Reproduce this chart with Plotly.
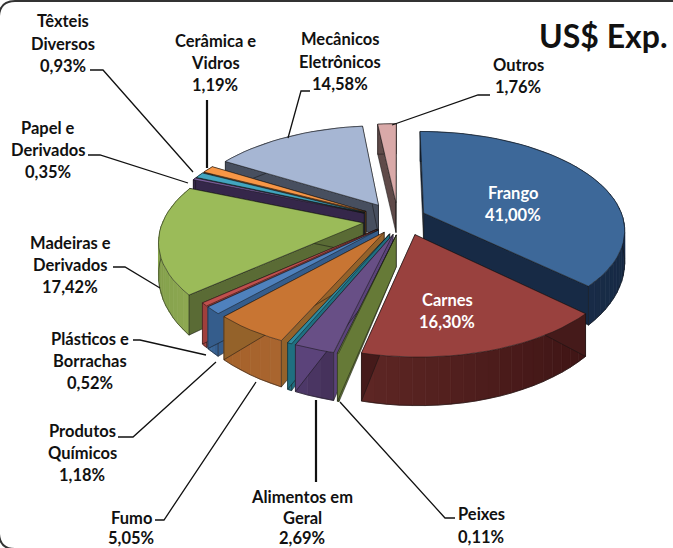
import math
import plotly.graph_objects as go

# Slice names and the percentages printed on the chart
categories = ["Frango", "Carnes", "Peixes", "Alimentos em Geral", "(sem rótulo)", "Fumo",
              "Produtos Químicos", "Plásticos e Borrachas", "Madeiras e Derivados",
              "Papel e Derivados", "Têxteis Diversos", "Cerâmica e Vidros",
              "Mecânicos Eletrônicos", "Outros"]
printed_pct = ["41,00%", "16,30%", "0,11%", "2,69%", "", "5,05%", "1,18%", "0,52%",
               "17,42%", "0,35%", "0,93%", "1,19%", "14,58%", "1,76%"]
# Wedge sizes (the printed labels sum to more than 100)
wedge_sizes = [36.9, 16.6, 0.11, 2.69, 0.3, 5.05, 1.18, 0.52, 17.42, 0.35, 0.93, 1.19, 14.58, 1.76]

top_colors = ["#3d6899", "#99413e", "#7f9a48", "#684f86", "#2f8a9e", "#c87533", "#4f81bd",
              "#c0504d", "#9bbb59", "#7d5fa0", "#42a5bf", "#f79646", "#a6b6d3", "#d9a9a8"]
cut_colors = ["#172a45", "#451a1a", "#667a37", "#5b437a", "#1f6f80", "#94622a", "#355d8c",
              "#a03f3c", "#5a6b35", "#35274a", "#1f5060", "#7a4a20", "#474f5f", "#5f4a49"]
rim_left = ["#1c3350", "#5e2624", "#667a37", "#4f3a6b", "#1f6f80", "#a5622a", "#3d6a9e",
            "#a03f3c", "#84a04c", "#35274a", "#1f5060", "#7a4a20", "#474f5f", "#5f4a49"]
rim_right = ["#172a45", "#3f1515", "#667a37", "#443059", "#1f6f80", "#a96530", "#355d8c",
             "#a03f3c", "#8ea952", "#35274a", "#1f5060", "#7a4a20", "#474f5f", "#5f4a49"]
paint_order = [13, 12, 11, 10, 9, 8, 7, 6, 5, 4, 3, 2, 0, 1]
# Extra displacement of each exploded slice, in pie radii
nudge_u = [-0.04, 0.03, 0.035, 0.035, 0.035, 0.035, 0.035, 0.035, 0.01, 0, 0, 0, 0, 0]
nudge_v = [0.0, -0.03, -0.03, -0.03, -0.03, -0.03, -0.03, -0.03, 0, 0, 0, 0, 0, 0]

CX, CY, RX, RY, PERSP, EXPLODE = 398, 220, 200, 97, 0.164, 0.185


def project(u, v, drop=False):
    s = 1 / (1 - PERSP * v)
    x = CX + RX * u * s
    y = CY + RY * v * s
    if drop:
        y += 30 + 80 * max(s - 1, 0)
    return x, y


def mix(a, b, f):
    pa = [int(a[i:i + 2], 16) for i in (1, 3, 5)]
    pb = [int(b[i:i + 2], 16) for i in (1, 3, 5)]
    return "rgb(%d,%d,%d)" % tuple(round(p + (q - p) * f) for p, q in zip(pa, pb))


def poly(fig, pts, fill, line=None, width=0.7):
    xs = [p[0] for p in pts] + [pts[0][0]]
    ys = [p[1] for p in pts] + [pts[0][1]]
    fig.add_trace(go.Scatter(x=xs, y=ys, mode="lines", fill="toself", fillcolor=fill,
                             line=dict(color=line or fill, width=width), hoverinfo="skip",
                             showlegend=False))


total = sum(wedge_sizes)
bounds = [0.0]
for w in wedge_sizes:
    bounds.append(bounds[-1] + w / total * 2 * math.pi)

fig = go.Figure()
EDGE = "rgba(20,20,20,0.75)"
for i in paint_order:
    a0, a1 = bounds[i], bounds[i + 1]
    mid = (a0 + a1) / 2
    ou = EXPLODE * math.sin(mid) + nudge_u[i]
    ov = -EXPLODE * math.cos(mid) + nudge_v[i]
    n = max(3, int((a1 - a0) / 0.05))
    angles = [a0 + (a1 - a0) * k / n for k in range(n + 1)]
    rim = [(ou + math.sin(a), ov - math.cos(a)) for a in angles]
    apex = (ou, ov)
    # outer wall facets, hidden ones first
    facets = list(range(n))
    facets.sort(key=lambda k: rim[k][1])
    xs_sorted = sorted(project(*p)[0] for p in rim)
    for k in facets:
        p, q = rim[k], rim[k + 1]
        xm = (project(*p)[0] + project(*q)[0]) / 2
        f = (xm - xs_sorted[0]) / max(xs_sorted[-1] - xs_sorted[0], 1)
        col = mix(rim_left[i], rim_right[i], f)
        poly(fig, [project(*p), project(*q), project(*q, True), project(*p, True)], col)
    # cut walls
    for end in (rim[0], rim[-1]):
        poly(fig, [project(*apex), project(*end), project(*end, True), project(*apex, True)],
             cut_colors[i], EDGE)
    # lower outline of the outer wall
    low = [project(*p, True) for p in rim]
    fig.add_trace(go.Scatter(x=[p[0] for p in low], y=[p[1] for p in low], mode="lines",
                             line=dict(color=EDGE, width=0.7), hoverinfo="skip", showlegend=False))
    # top face
    poly(fig, [project(*apex)] + [project(*p) for p in rim], top_colors[i], EDGE)

# Leader lines
leaders = [
    ([90, 103, 193], [70, 70, 172], 1.3),
    ([207, 207], [100, 168], 2.2),
    ([310, 301, 288], [91, 91, 138], 1.3),
    ([490, 478, 392], [95, 95, 125], 1.3),
    ([88, 100, 188], [155, 155, 183], 1.3),
    ([113, 125, 160], [267, 267, 288], 1.3),
    ([133, 140, 206], [340, 340, 355], 1.3),
    ([118, 133, 216], [437, 437, 362], 1.3),
    ([155, 164, 256], [520, 520, 382], 1.3),
    ([316, 316], [400, 482], 2.2),
    ([340, 445, 455], [402, 518, 518], 1.3),
]
for lx, ly, lw in leaders:
    fig.add_trace(go.Scatter(x=lx, y=ly, mode="lines", line=dict(color="#111111", width=lw),
                             hoverinfo="skip", showlegend=False))

# Text
label_lines = [
    (63, [21, 44, 66], ["Têxteis", "Diversos", printed_pct[10]], "#111111"),
    (215, [41, 63, 85], ["Cerâmica e", "Vidros", printed_pct[11]], "#111111"),
    (340, [39, 62, 84], ["Mecânicos", "Eletrônicos", printed_pct[12]], "#111111"),
    (518, [65, 87], ["Outros", printed_pct[13]], "#111111"),
    (48, [128, 150, 172], ["Papel e", "Derivados", printed_pct[9]], "#111111"),
    (70, [243, 265, 287], ["Madeiras e", "Derivados", printed_pct[8]], "#111111"),
    (90, [339, 361, 383], ["Plásticos e", "Borrachas", printed_pct[7]], "#111111"),
    (82, [431, 453, 475], ["Produtos", "Químicos", printed_pct[6]], "#111111"),
    (131, [518, 538], ["Fumo", printed_pct[5]], "#111111"),
    (302, [497, 518, 538], ["Alimentos em", "Geral", printed_pct[3]], "#111111"),
    (481, [514, 537], ["Peixes", printed_pct[2]], "#111111"),
    (513, [193, 215], ["Frango", printed_pct[0]], "#ffffff"),
    (447, [300, 322], ["Carnes", printed_pct[1]], "#ffffff"),
]
for x, ys, texts, col in label_lines:
    for y, t in zip(ys, texts):
        fig.add_annotation(x=x, y=y, text="<b>%s</b>" % t, showarrow=False, xref="x", yref="y",
                           xanchor="center", yanchor="middle",
                           font=dict(family="Lato", size=16.5, color=col))
fig.add_annotation(x=603, y=35, text="<b>US$ Exp.</b>", showarrow=False, xref="x", yref="y",
                   xanchor="center", yanchor="middle",
                   font=dict(family="Lato", size=32, color="#111111"))

fig.update_layout(
    width=673, height=548, margin=dict(l=0, r=0, t=0, b=0),
    paper_bgcolor="white", plot_bgcolor="white", showlegend=False,
    xaxis=dict(range=[0, 673], visible=False, fixedrange=True),
    yaxis=dict(range=[548, 0], visible=False, fixedrange=True),
    shapes=[dict(type="path", xref="x", yref="y",
                 path="M 15,1 L 700,1 L 700,560 L 15,549 Q 0,549 -1,534 L -1,16 Q 0,1 15,1 Z",
                 line=dict(color="#333333", width=2), layer="above")],
)
fig.write_html("out.html", config={"displayModeBar": False},
               post_script="document.body.style.margin='0';document.documentElement.style.overflow='hidden';")
